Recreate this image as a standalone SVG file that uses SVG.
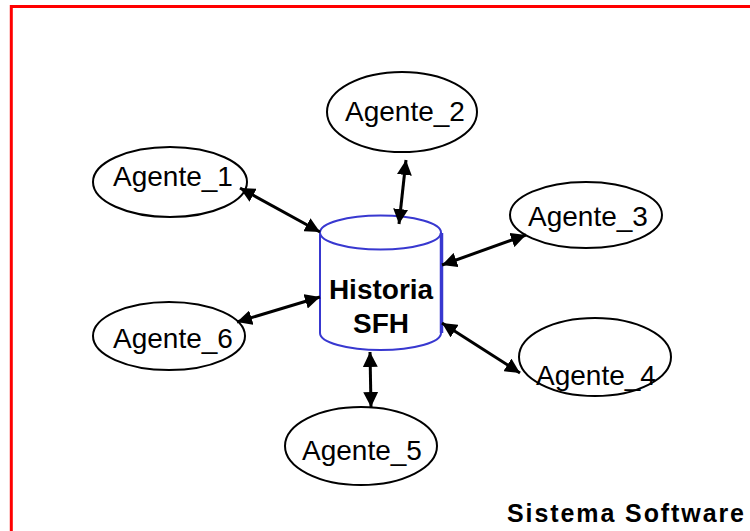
<svg xmlns="http://www.w3.org/2000/svg" width="750" height="531" viewBox="0 0 750 531">
  <defs>
    <marker id="head" viewBox="0 0 10 10" refX="10" refY="5" markerWidth="15" markerHeight="15" markerUnits="userSpaceOnUse" orient="auto-start-reverse">
      <path d="M0,0 L10,5 L0,10 Z" fill="#000"/>
    </marker>
    <style>
      .agent ellipse { fill: #fff; stroke: #000; stroke-width: 2; }
      .agent text { font-family: "Liberation Sans", Arial, sans-serif; font-size: 28px; fill: #000; text-anchor: middle; }
      .link { stroke: #000; stroke-width: 3; fill: none; marker-start: url(#head); marker-end: url(#head); }
      .db { fill: #fff; stroke: #3838d0; stroke-width: 2; }
      .dbtext { font-family: "Liberation Sans", Arial, sans-serif; font-size: 28px; font-weight: bold; fill: #000; text-anchor: middle; }
    </style>
  </defs>

  <rect x="0" y="0" width="750" height="531" fill="#fff"/>
  <!-- system boundary -->
  <rect x="11.3" y="6.5" width="800" height="600" fill="none" stroke="#ff0000" stroke-width="3"/>

  <!-- central store -->
  <g id="historia">
    <path class="db" d="M320,232 L320,333 A60.5,17 0 0 0 441,333 L441,232"/>
    <ellipse class="db" cx="380.5" cy="232.5" rx="60.5" ry="17"/>
    <line x1="441.5" y1="233" x2="441.5" y2="333" stroke="#3838d0" stroke-width="3.5"/>
    <text class="dbtext" x="381" y="299">Historia</text>
    <text class="dbtext" x="381" y="333">SFH</text>
  </g>

  <g id="agente_1" class="agent">
    <ellipse cx="170" cy="182" rx="77" ry="35"/>
    <text x="173" y="186">Agente_1</text>
  </g>
  <g id="agente_2" class="agent">
    <ellipse cx="402" cy="112" rx="75" ry="40"/>
    <text x="405" y="121">Agente_2</text>
  </g>
  <g id="agente_3" class="agent">
    <ellipse cx="586" cy="215" rx="76" ry="33"/>
    <text x="588" y="226">Agente_3</text>
  </g>
  <g id="agente_4" class="agent">
    <ellipse cx="595" cy="357" rx="76" ry="39"/>
    <text x="596" y="385">Agente_4</text>
  </g>
  <g id="agente_5" class="agent">
    <ellipse cx="361" cy="446" rx="76" ry="39"/>
    <text x="362" y="460">Agente_5</text>
  </g>
  <g id="agente_6" class="agent">
    <ellipse cx="169" cy="336" rx="76" ry="34"/>
    <text x="173" y="348">Agente_6</text>
  </g>

  <g id="connectors">
    <line class="link" x1="240" y1="188" x2="320" y2="232"/>
    <line class="link" x1="406" y1="160" x2="399" y2="224"/>
    <line class="link" x1="526" y1="235" x2="442" y2="265"/>
    <line class="link" x1="442" y1="323" x2="520" y2="373"/>
    <line class="link" x1="370" y1="352" x2="371" y2="407"/>
    <line class="link" x1="237" y1="322" x2="320" y2="297"/>
  </g>

  <text x="507" y="522" font-family="'Liberation Sans', Arial, sans-serif" font-size="25" font-weight="bold" textLength="237" lengthAdjust="spacing">Sistema Software</text>
</svg>
